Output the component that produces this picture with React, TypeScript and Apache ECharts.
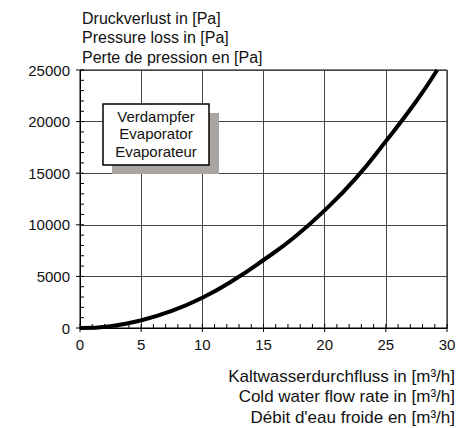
import React, { useEffect, useRef } from "react";
import * as echarts from "echarts";

const flowRates = [0, 2.5, 5, 7.5, 10, 12.5, 15, 17.5, 20, 22.5, 25, 27.5, 29.2];
const pressureLoss = [0, 180, 740, 1650, 2930, 4600, 6590, 8770, 11400, 14450, 18100, 22000, 25000];
const xTickValues = [0, 1, 2, 3, 4, 5, 6, 7, 8, 9, 10, 11, 12, 13, 14, 15, 16, 17, 18, 19, 20, 21, 22, 23, 24, 25, 26, 27, 28, 29, 30];
const yTickValues = [0, 1000, 2000, 3000, 4000, 5000, 6000, 7000, 8000, 9000, 10000, 11000, 12000, 13000, 14000, 15000, 16000, 17000, 18000, 19000, 20000, 21000, 22000, 23000, 24000, 25000];
const yTitleLines = ["Druckverlust in [Pa]", "Pressure loss in [Pa]", "Perte de pression en [Pa]"];
const xTitleLines = ["Kaltwasserdurchfluss in [m³/h]", "Cold water flow rate in [m³/h]", "Débit d'eau froide en [m³/h]"];
const boxLines = ["Verdampfer", "Evaporator", "Evaporateur"];

const FONT = "Liberation Sans, Arial, sans-serif";

export default function App() {
  const ref = useRef<HTMLDivElement>(null);
  useEffect(() => {
    if (!ref.current) return;
    const chart = echarts.init(ref.current, undefined, { renderer: "svg" });
    const data = flowRates.map((x, i) => [x, pressureLoss[i]]);
    const axisLine = { show: true, lineStyle: { color: "#000", width: 1 } };
    chart.setOption({
      animation: false,
      backgroundColor: "#fff",
      textStyle: { fontFamily: FONT },
      grid: {
        left: 80, right: 13, top: 70, bottom: 100,
        show: true, borderColor: "#000", borderWidth: 1, backgroundColor: "transparent",
      },
      xAxis: {
        type: "value", min: 0, max: 30, interval: 5,
        axisLine,
        axisTick: { show: false },
        axisLabel: { fontSize: 15, color: "#111", margin: 9, fontFamily: FONT },
        splitLine: { show: true, lineStyle: { color: "#444", width: 1 } },
      },
      yAxis: {
        type: "value", min: 0, max: 25000, interval: 5000,
        axisLine,
        axisTick: { show: false },
        axisLabel: { fontSize: 15, color: "#111", margin: 10, fontFamily: FONT, formatter: (v: number) => String(v) },
        splitLine: { show: true, lineStyle: { color: "#444", width: 1 } },
      },
      series: [
        {
          type: "custom",
          silent: true,
          clip: false,
          z: 3,
          data: xTickValues.map((v) => [v, 0]),
          renderItem: (_p: any, api: any) => {
            const v = api.value(0);
            const pt = api.coord([v, 0]);
            const major = v % 5 === 0;
            return {
              type: "line",
              shape: { x1: pt[0], y1: pt[1] + (major ? 4 : 0), x2: pt[0], y2: pt[1] - 4 },
              style: { stroke: "#000", lineWidth: 1 },
            };
          },
        },
        {
          type: "custom",
          silent: true,
          clip: false,
          z: 3,
          data: yTickValues.map((v) => [0, v]),
          renderItem: (_p: any, api: any) => {
            const v = api.value(1);
            const pt = api.coord([0, v]);
            const major = v % 5000 === 0;
            return {
              type: "line",
              shape: { x1: pt[0] - (major ? 4 : 0), y1: pt[1], x2: pt[0] + 4, y2: pt[1] },
              style: { stroke: "#000", lineWidth: 1 },
            };
          },
        },
        {
          type: "line",
          data,
          smooth: true,
          showSymbol: false,
          lineStyle: { color: "#000", width: 4 },
          z: 5,
        },
      ],
      graphic: [
        ...yTitleLines.map((t, i) => ({
          type: "text", x: 82, y: 18 + i * 19.5,
          style: { text: t, fontSize: 16, fill: "#111", fontFamily: FONT, verticalAlign: "middle" },
        })),
        ...xTitleLines.map((t, i) => ({
          type: "text", x: 455, y: 376 + i * 20.5,
          style: { text: t, fontSize: 17, fill: "#111", fontFamily: FONT, align: "right", verticalAlign: "middle" },
        })),
        {
          type: "rect", shape: { x: 112, y: 113, width: 107, height: 61 },
          style: { fill: "#a9a5a1" }, z: 10,
        },
        {
          type: "rect", shape: { x: 103, y: 104, width: 106, height: 61 },
          style: { fill: "#fff", stroke: "#000", lineWidth: 1.5 }, z: 11,
        },
        ...boxLines.map((t, i) => ({
          type: "text", x: 156, y: 116 + i * 17.5, z: 12,
          style: { text: t, fontSize: 15, fill: "#111", fontFamily: FONT, align: "center", verticalAlign: "middle" },
        })),
      ],
    });
    return () => chart.dispose();
  }, []);
  return <div ref={ref} style={{ width: 460, height: 428, position: "absolute", left: 0, top: 0 }} />;
}
